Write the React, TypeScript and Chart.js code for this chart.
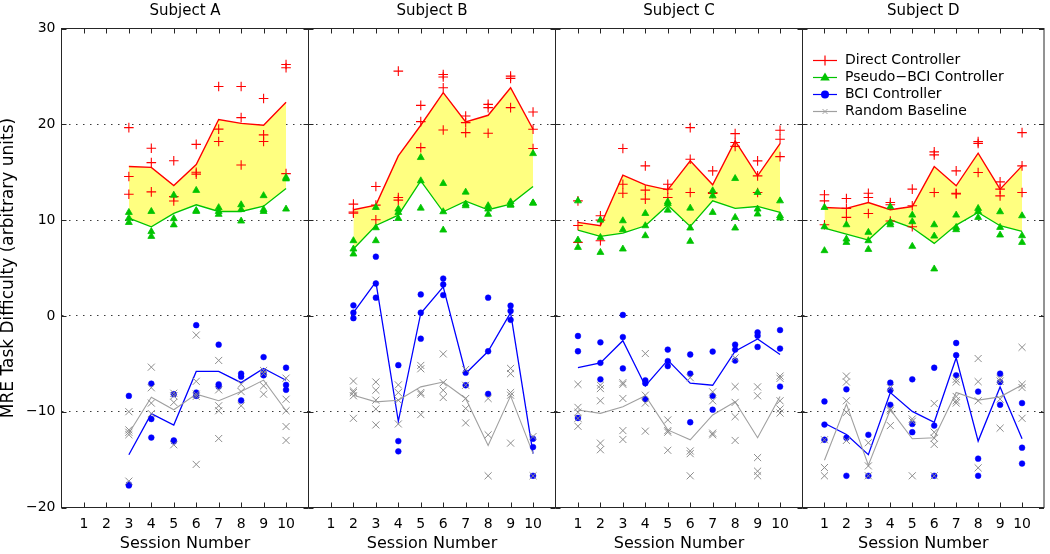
import React, { useEffect, useRef } from 'react';
import { Chart, registerables } from 'chart.js';

Chart.register(...registerables);

const FONT = "'DejaVu Sans', 'Liberation Sans', Arial, sans-serif";

const SESSIONS = [1, 2, 3, 4, 5, 6, 7, 8, 9, 10];
const Y_TICKS = [-20, -10, 0, 10, 20, 30];
const SUBJECT_TITLES = ['Subject A', 'Subject B', 'Subject C', 'Subject D'];
const LEGEND_LABELS = ['Direct Controller', 'Pseudo\u2212BCI Controller', 'BCI Controller', 'Random Baseline'];
const X_TITLE = 'Session Number';
const Y_TITLE = 'MRE Task Difficulty (arbitrary units)';

// ---------- Subject A ----------
const A_SESS = [3, 4, 5, 6, 7, 8, 9, 10];
const A_DIRECT_MEAN = [15.6, 15.5, 13.6, 15.8, 20.5, 20.1, 19.9, 22.3];
const A_DIRECT_PTS = [[19.65, 14.55, 12.7], [17.5, 16.0, 12.95], [16.2, 12.45, 12.0], [17.9, 15.0, 14.8], [23.95, 19.5, 18.2], [23.95, 20.7, 15.75], [22.7, 18.9, 18.2], [26.25, 25.9, 14.85]];
const A_PSEUDO_MEAN = [10.2, 9.3, 10.7, 11.6, 10.9, 10.9, 11.45, 13.3];
const A_PSEUDO_PTS = [[10.8, 10.2, 9.75], [10.9, 8.8, 8.3], [12.6, 10.15, 9.5], [13.1, 11.0, 10.9], [11.3, 10.9, 10.6], [11.6, 11.1, 9.9], [12.55, 11.1, 10.9], [14.45, 14.3, 11.15]];
const A_BCI_MEAN = [-14.5, -10.2, -11.4, -5.8, -5.8, -6.97, -5.48, -6.72];
const A_BCI_PTS = [[-8.35, -17.6, -17.7], [-7.07, -10.76, -12.7], [-8.17, -13.0, -13.1], [-0.97, -8.0, -8.35], [-3.0, -7.14, -7.38], [-6.03, -6.34, -8.83], [-4.3, -5.93, -6.2], [-5.41, -7.2, -7.72]];
const A_RANDOM_MEAN = [-12.25, -8.5, -9.8, -8.17, -8.86, -7.9, -6.7, -9.9];
const A_RANDOM_PTS = [[-10.0, -11.9, -12.15, -12.4, -17.25], [-5.35, -7.5, -9.1, -10.2], [-8.07, -8.35, -9.03, -13.45], [-2.0, -6.83, -8.17, -8.4, -15.5], [-4.65, -7.72, -9.38, -9.9, -12.8], [-7.14, -7.9, -9.38], [-5.7, -6.0, -7.3, -8.17], [-6.5, -8.7, -9.9, -11.55, -13.0]];

// ---------- Subject B ----------
const B_SESS = [2, 3, 4, 5, 6, 7, 8, 9, 10];
const B_DIRECT_MEAN = [11.08, 11.56, 16.7, 19.9, 23.3, 20.24, 20.94, 23.82, 19.48];
const B_DIRECT_PTS = [[11.67, 10.85, 10.73], [13.5, 11.56, 10.03], [25.55, 12.36, 12.08], [21.98, 20.28, 17.57], [25.2, 24.93, 23.82, 19.4], [20.87, 20.17, 19.13], [22.08, 21.74, 19.06], [25.03, 24.79, 21.74], [21.28, 19.48, 17.47]];
const B_PSEUDO_MEAN = [6.98, 9.44, 10.52, 14.1, 10.87, 11.98, 11.08, 11.67, 13.5];
const B_PSEUDO_PTS = [[7.85, 6.98, 6.46], [11.32, 9.2, 7.85], [11.15, 10.8, 10.17], [16.53, 14.1, 11.25], [13.82, 10.87, 8.96], [12.92, 11.67, 11.5], [11.5, 11.15, 10.6], [11.9, 11.6, 11.56], [16.94, 11.77, 11.8]];
const B_BCI_MEAN = [0.34, 3.55, -11.0, 0.28, 3.03, -6.0, -3.69, 0.34, -14.38];
const B_BCI_PTS = [[1.1, 0.34, -0.24], [6.18, 3.38, 1.9], [-5.14, -13.07, -14.14], [2.24, 0.34, -2.38], [3.9, 3.28, 2.17], [-5.93, -7.24], [1.9, -3.69, -8.14], [1.07, 0.52, -0.41], [-12.83, -13.69, -16.69]];
const B_RANDOM_MEAN = [-8.28, -8.97, -8.8, -7.41, -6.9, -8.62, -13.52, -8.34, -14.38];
const B_RANDOM_PTS = [[-6.8, -7.83, -8.0, -8.34, -10.69], [-6.9, -7.76, -8.8, -9.72, -11.38], [-7.2, -8.0, -8.8, -11.28], [-5.17, -5.52, -8.0, -8.17, -10.3], [-3.97, -6.97, -7.76, -8.52], [-5.59, -7.24, -8.62, -9.66, -11.17], [-8.62, -12.41, -16.69], [-5.48, -6.03, -8.0, -8.28, -13.28], [-12.59, -16.69]];

// ---------- Subject C ----------
const C_SESS = [1, 2, 3, 4, 5, 6, 7, 8, 9, 10];
const C_DIRECT_MEAN = [9.76, 9.41, 14.69, 13.68, 13.16, 16.18, 13.68, 18.26, 14.62, 17.99];
const C_DIRECT_PTS = [[12.01, 9.44, 7.67], [10.45, 10.0, 7.85], [17.47, 13.75, 12.81], [15.66, 13.13, 12.19], [13.75, 13.23, 12.36], [19.65, 16.35, 12.88], [15.14, 12.88, 12.78], [19.03, 18.1, 17.7], [16.18, 14.62, 12.88], [19.38, 18.44, 16.63]];
const C_PSEUDO_MEAN = [8.96, 8.3, 8.65, 9.41, 11.56, 9.34, 12.01, 11.22, 11.42, 10.8];
const C_PSEUDO_PTS = [[12.01, 7.92, 7.15], [10.0, 8.19, 6.63], [9.93, 9.0, 6.98], [10.69, 9.41, 8.37], [11.91, 11.73, 11.04], [11.25, 9.17, 7.78], [13.06, 12.53, 10.8], [14.34, 10.28, 9.17], [12.88, 11.15, 10.63], [12.01, 10.45, 10.21]];
const C_BCI_MEAN = [-5.41, -4.9, -2.59, -7.31, -4.62, -7.03, -7.24, -3.69, -2.41, -4.03];
const C_BCI_PTS = [[-2.1, -3.69, -10.66], [-2.76, -4.9, -6.62], [0.1, -2.21, -5.48], [-6.72, -7.03, -8.69], [-3.52, -4.72, -5.24], [-4.03, -6.03, -11.1], [-3.72, -8.34, -9.79], [-3.0, -3.52, -4.66], [-1.72, -2.07, -3.24], [-1.48, -3.41, -7.38]];
const C_RANDOM_MEAN = [-9.83, -10.17, -9.48, -8.34, -11.9, -12.93, -10.34, -8.97, -12.72, -8.41];
const C_RANDOM_PTS = [[-7.14, -9.55, -10.07, -10.69, -11.52], [-7.24, -7.59, -8.86, -13.28, -13.97], [-6.97, -7.14, -8.62, -11.97, -12.9], [-3.93, -8.28, -9.1, -12.03], [-10.86, -11.97, -12.14, -14.03], [-6.45, -14.1, -14.38, -16.69], [-7.93, -8.86, -12.24, -12.41], [-4.38, -7.38, -9.03, -10.52, -13.0], [-7.41, -8.34, -14.79, -16.21, -16.69], [-6.28, -6.52, -8.86, -9.72, -10.14]];

// ---------- Subject D ----------
const D_SESS = [1, 2, 3, 4, 5, 6, 7, 8, 9, 10];
const D_DIRECT_MEAN = [11.32, 11.22, 11.84, 11.08, 11.42, 15.59, 13.58, 16.98, 13.23, 15.66];
const D_DIRECT_PTS = [[12.64, 12.01, 9.51], [12.26, 11.22, 10.28], [12.81, 12.36, 10.69], [11.84, 11.6, 9.9], [13.23, 11.5, 9.3], [17.12, 16.81, 12.88], [15.14, 12.81, 12.74], [18.19, 17.99, 14.97], [13.99, 13.23, 12.53], [19.13, 15.66, 12.88]];
const D_PSEUDO_MEAN = [9.17, 8.54, 7.92, 10.03, 9.2, 7.57, 9.48, 10.8, 9.41, 8.82];
const D_PSEUDO_PTS = [[11.32, 9.3, 6.81], [9.51, 8.02, 7.67], [8.72, 7.85, 6.94], [11.39, 9.76, 9.51], [10.52, 9.83, 7.26], [9.51, 8.33, 4.9], [10.52, 9.24, 9.0], [11.22, 10.9, 10.28], [10.87, 9.24, 8.44], [10.45, 8.37, 7.67]];
const D_BCI_MEAN = [-11.21, -12.38, -14.48, -8.0, -9.97, -11.1, -4.38, -13.07, -7.41, -12.83];
const D_BCI_PTS = [[-8.93, -11.34, -12.93], [-7.66, -12.72, -16.69], [-12.41, -16.69], [-6.97, -7.76, -9.28], [-6.62, -11.28, -12.14], [-5.41, -11.45, -16.69], [-2.83, -4.1, -6.2], [-7.9, -14.9, -16.69], [-6.03, -6.9, -9.28], [-9.1, -13.76, -15.41]];
const D_RANDOM_MEAN = [-15.07, -9.2, -15.59, -9.79, -12.83, -12.72, -8.0, -8.79, -8.45, -7.21];
const D_RANDOM_PTS = [[-12.93, -15.83, -16.69], [-6.28, -6.9, -8.86, -10.07, -13.0], [-13.24, -15.66, -16.69], [-7.48, -9.72, -9.9, -11.45], [-10.76, -11.0, -16.69], [-9.14, -12.14, -12.76, -13.41, -16.69], [-6.62, -6.9, -8.41, -8.86, -9.1], [-4.45, -6.86, -8.86, -15.86], [-6.55, -6.8, -8.69, -11.72], [-3.28, -7.14, -7.48, -10.69]];

const SUBJECTS = [
  { sess: A_SESS, directMean: A_DIRECT_MEAN, directPts: A_DIRECT_PTS, pseudoMean: A_PSEUDO_MEAN, pseudoPts: A_PSEUDO_PTS, bciMean: A_BCI_MEAN, bciPts: A_BCI_PTS, randomMean: A_RANDOM_MEAN, randomPts: A_RANDOM_PTS },
  { sess: B_SESS, directMean: B_DIRECT_MEAN, directPts: B_DIRECT_PTS, pseudoMean: B_PSEUDO_MEAN, pseudoPts: B_PSEUDO_PTS, bciMean: B_BCI_MEAN, bciPts: B_BCI_PTS, randomMean: B_RANDOM_MEAN, randomPts: B_RANDOM_PTS },
  { sess: C_SESS, directMean: C_DIRECT_MEAN, directPts: C_DIRECT_PTS, pseudoMean: C_PSEUDO_MEAN, pseudoPts: C_PSEUDO_PTS, bciMean: C_BCI_MEAN, bciPts: C_BCI_PTS, randomMean: C_RANDOM_MEAN, randomPts: C_RANDOM_PTS },
  { sess: D_SESS, directMean: D_DIRECT_MEAN, directPts: D_DIRECT_PTS, pseudoMean: D_PSEUDO_MEAN, pseudoPts: D_PSEUDO_PTS, bciMean: D_BCI_MEAN, bciPts: D_BCI_PTS, randomMean: D_RANDOM_MEAN, randomPts: D_RANDOM_PTS },
];

// ---------- styling / layout ----------
const W = 1050;
const H = 554;
const PANEL_LEFT = [61.5, 308.5, 555.5, 802.5];
const PANEL_WIDTH = 247;
const PLOT_TOP = 28.5;
const PLOT_BOTTOM = 507.5;

const RED = '#ff0000';
const GREEN = '#00c400';
const BLUE = '#0000ff';
const GRAY_LINE = '#a0a0a0';
const GRAY_PT = '#8c8c8c';
const YELLOW = '#ffff80';
const AXIS = '#262626';
const GRID = '#3a3a3a';

const fmtY = (v: number) => (v < 0 ? '\u2212' + Math.abs(v) : String(v));

const framePlugin = {
  id: 'frame',
  afterDatasetsDraw(chart: any) {
    const { ctx, chartArea, scales } = chart;
    const { left, right, top, bottom } = chartArea;
    const x = scales.x;
    const y = scales.y;
    ctx.save();
    ctx.strokeStyle = AXIS;
    ctx.lineWidth = 1;
    ctx.beginPath();
    SESSIONS.forEach((s) => {
      const px = Math.round(x.getPixelForValue(s)) + 0.5;
      ctx.moveTo(px, top);
      ctx.lineTo(px, top + 5);
      ctx.moveTo(px, bottom);
      ctx.lineTo(px, bottom - 5);
    });
    Y_TICKS.forEach((v) => {
      const py = Math.round(y.getPixelForValue(v)) + 0.5;
      ctx.moveTo(left, py);
      ctx.lineTo(left + 5, py);
      ctx.moveTo(right, py);
      ctx.lineTo(right - 5, py);
    });
    ctx.stroke();
    ctx.strokeRect(left, top, right - left, bottom - top);
    ctx.restore();
  },
};

const makeTitlePlugin = (text: string) => ({
  id: 'subjectTitle',
  afterDraw(chart: any) {
    const { ctx, chartArea } = chart;
    ctx.save();
    ctx.font = `15px ${FONT}`;
    ctx.fillStyle = '#000';
    ctx.textAlign = 'center';
    ctx.textBaseline = 'middle';
    ctx.fillText(text, (chartArea.left + chartArea.right) / 2, 11);
    ctx.restore();
  },
});

const legendPlugin = {
  id: 'insideLegend',
  afterDraw(chart: any) {
    const { ctx, chartArea } = chart;
    const x0 = chartArea.left + 10.5;
    const x1 = chartArea.left + 34.5;
    const xm = (x0 + x1) / 2;
    const tx = chartArea.left + 42.5;
    const colors = [RED, GREEN, BLUE, GRAY_LINE];
    ctx.save();
    ctx.font = `14px ${FONT}`;
    ctx.textBaseline = 'middle';
    ctx.textAlign = 'left';
    LEGEND_LABELS.forEach((label, i) => {
      const yy = Math.round(chartArea.top + 31 + i * 17) + 0.5;
      ctx.strokeStyle = colors[i];
      ctx.fillStyle = colors[i];
      ctx.lineWidth = 1.2;
      ctx.beginPath();
      ctx.moveTo(x0, yy);
      ctx.lineTo(x1, yy);
      ctx.stroke();
      ctx.beginPath();
      if (i === 0) {
        ctx.moveTo(xm - 5, yy);
        ctx.lineTo(xm + 5, yy);
        ctx.moveTo(xm, yy - 5);
        ctx.lineTo(xm, yy + 5);
        ctx.stroke();
      } else if (i === 1) {
        ctx.moveTo(xm, yy - 5);
        ctx.lineTo(xm + 4.8, yy + 3);
        ctx.lineTo(xm - 4.8, yy + 3);
        ctx.closePath();
        ctx.fill();
      } else if (i === 2) {
        ctx.arc(xm, yy, 4, 0, Math.PI * 2);
        ctx.fill();
      } else {
        ctx.lineWidth = 1;
        ctx.moveTo(xm - 2.5, yy - 2.5);
        ctx.lineTo(xm + 2.5, yy + 2.5);
        ctx.moveTo(xm - 2.5, yy + 2.5);
        ctx.lineTo(xm + 2.5, yy - 2.5);
        ctx.stroke();
      }
      ctx.fillStyle = '#000';
      ctx.fillText(label, tx, yy);
    });
    ctx.restore();
  },
};

function makeConfig(i: number): any {
  const s = SUBJECTS[i];
  const line = (vals: number[]) => vals.map((v, k) => ({ x: s.sess[k], y: v }));
  const pts = (groups: number[][]) => groups.flatMap((g, k) => g.map((v) => ({ x: s.sess[k], y: v })));
  const left = PANEL_LEFT[i];
  const right = left + PANEL_WIDTH;
  const isFirst = i === 0;
  const plugins: any[] = [framePlugin, makeTitlePlugin(SUBJECT_TITLES[i])];
  if (i === 3) plugins.push(legendPlugin);
  return {
    type: 'line',
    data: {
      datasets: [
        { data: line(s.directMean), borderColor: RED, backgroundColor: YELLOW, borderWidth: 1.4, pointRadius: 0, fill: '+1', order: 8, tension: 0 },
        { data: line(s.pseudoMean), borderColor: GREEN, borderWidth: 1.3, pointRadius: 0, fill: false, order: 7, tension: 0 },
        { data: line(s.bciMean), borderColor: BLUE, borderWidth: 1.3, pointRadius: 0, fill: false, order: 6, tension: 0 },
        { data: line(s.randomMean), borderColor: GRAY_LINE, borderWidth: 1.1, pointRadius: 0, fill: false, order: 5, tension: 0 },
        { data: pts(s.directPts), showLine: false, pointStyle: 'cross', pointRadius: 4.8, pointBorderColor: RED, pointBackgroundColor: RED, pointBorderWidth: 1.1, order: 4 },
        { data: pts(s.pseudoPts), showLine: false, pointStyle: 'triangle', pointRadius: 4, pointBackgroundColor: GREEN, pointBorderColor: GREEN, pointBorderWidth: 0.8, order: 3 },
        { data: pts(s.bciPts), showLine: false, pointStyle: 'circle', pointRadius: 2.9, pointBackgroundColor: BLUE, pointBorderColor: BLUE, pointBorderWidth: 0.5, order: 2 },
        { data: pts(s.randomPts), showLine: false, pointStyle: 'crossRot', pointRadius: 5, pointBorderColor: GRAY_PT, pointBackgroundColor: GRAY_PT, pointBorderWidth: 1, order: 1 },
      ],
    },
    options: {
      responsive: false,
      animation: false,
      devicePixelRatio: 1,
      layout: { padding: { left: isFirst ? 0 : left, right: W - right, top: PLOT_TOP, bottom: 0 } },
      plugins: {
        legend: { display: false },
        tooltip: { enabled: false },
        filler: { drawTime: 'beforeDatasetsDraw' },
      },
      scales: {
        x: {
          type: 'linear',
          min: 0,
          max: 11,
          afterBuildTicks: (sc: any) => { sc.ticks = SESSIONS.map((v) => ({ value: v })); },
          afterFit: (sc: any) => { sc.height = H - PLOT_BOTTOM; },
          grid: { display: false, drawTicks: false },
          border: { display: false },
          ticks: { padding: 8, autoSkip: false, maxRotation: 0, color: '#000', font: { size: 14, family: FONT }, callback: (v: any) => String(v) },
          title: { display: true, text: X_TITLE, color: '#000', font: { size: 16, family: FONT, lineHeight: 1 }, padding: { top: 0, bottom: 2 } },
        },
        y: {
          type: 'linear',
          min: -20,
          max: 30,
          afterBuildTicks: (sc: any) => { sc.ticks = Y_TICKS.map((v) => ({ value: v })); },
          afterFit: (sc: any) => { sc.width = isFirst ? left : 0; },
          grid: {
            drawTicks: false,
            lineWidth: 1,
            color: (c: any) => (c.tick && c.tick.value > -20 && c.tick.value < 30 ? GRID : 'rgba(0,0,0,0)'),
          },
          border: { display: false, dash: [1.5, 5.5] },
          ticks: { display: isFirst, padding: 6, color: '#000', font: { size: 14, family: FONT }, callback: (v: any) => fmtY(v) },
          title: { display: isFirst, text: Y_TITLE, color: '#000', font: { size: 17, family: FONT, lineHeight: 1 }, padding: { top: 0, bottom: 0 } },
        },
      },
    },
    plugins,
  };
}

export default function App() {
  const r0 = useRef<HTMLCanvasElement | null>(null);
  const r1 = useRef<HTMLCanvasElement | null>(null);
  const r2 = useRef<HTMLCanvasElement | null>(null);
  const r3 = useRef<HTMLCanvasElement | null>(null);
  const refs = [r0, r1, r2, r3];

  useEffect(() => {
    const charts = refs.map((r, i) => new Chart(r.current as HTMLCanvasElement, makeConfig(i)));
    return () => charts.forEach((c) => c.destroy());
  }, []);

  return (
    <div style={{ position: 'absolute', left: 0, top: 0, width: W, height: H, background: '#fff' }}>
      {refs.map((r, i) => (
        <canvas key={i} ref={r} width={W} height={H} style={{ position: 'absolute', left: 0, top: 0 }} />
      ))}
    </div>
  );
}
